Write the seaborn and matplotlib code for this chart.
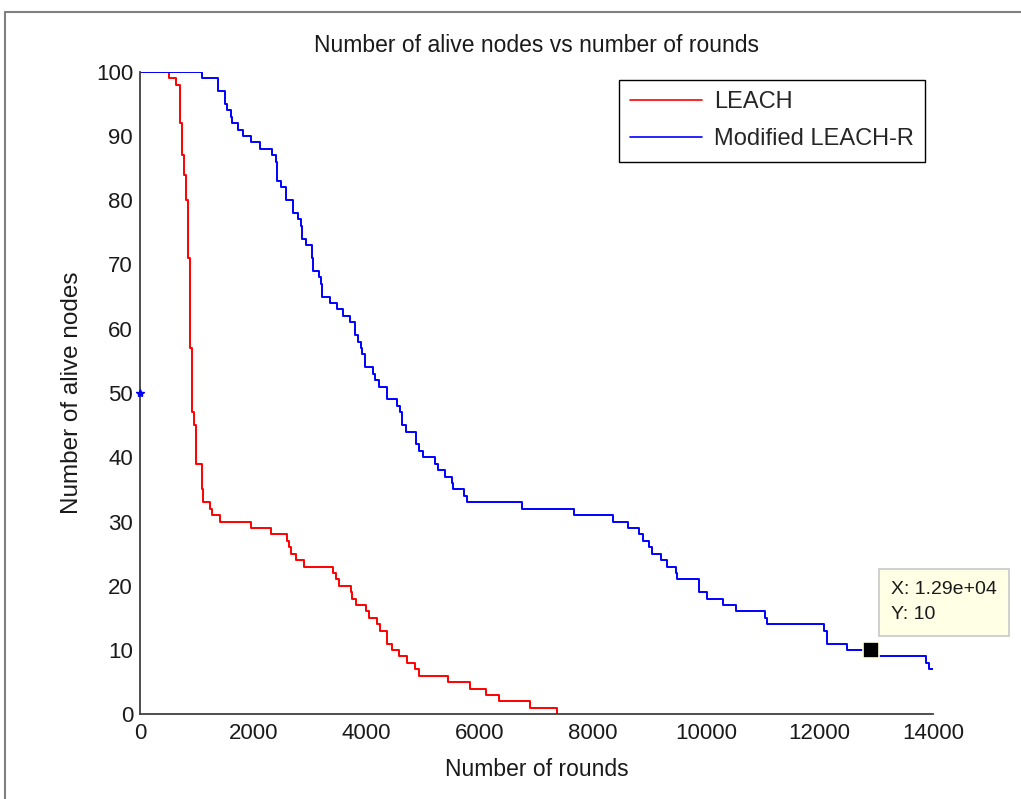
import matplotlib
matplotlib.use("Agg")
import matplotlib.pyplot as plt
from matplotlib.lines import Line2D
import seaborn as sns
import pandas as pd

# ---- data ----
leach_rounds = [0, 517, 635, 706, 747, 783, 806, 841, 883, 918, 947, 982, 1094, 1118,
                1241, 1277, 1412, 1954, 2307, 2600, 2630, 2660, 2748, 2895, 3401, 3455,
                3519, 3719, 3748, 3813, 3984, 4036, 4189, 4237, 4366, 4454, 4572, 4708,
                4854, 4925, 5431, 5825, 6102, 6337, 6884, 7366]
leach_alive = [100, 99, 98, 92, 87, 84, 80, 71, 57, 47, 45, 39, 35, 33,
               32, 31, 30, 29, 28, 27, 26, 25, 24, 23, 22, 21,
               20, 19, 18, 17, 16, 15, 14, 13, 11, 10, 9, 8,
               7, 6, 5, 4, 3, 2, 1, 0]

modr_rounds = [0, 1089, 1383, 1500, 1542, 1601, 1630, 1736, 1813, 1959, 2118, 2336, 2395,
               2412, 2495, 2572, 2707, 2748, 2783, 2840, 2866, 2924, 3030, 3060, 3160,
               3195, 3207, 3354, 3472, 3589, 3707, 3795, 3854, 3901, 3925, 3972, 4119,
               4155, 4225, 4355, 4366, 4531, 4590, 4619, 4690, 4872, 4931, 4990, 5207,
               5266, 5384, 5502, 5531, 5725, 5767, 6748, 7661, 8356, 8620, 8814, 8873,
               8991, 9032, 9191, 9297, 9462, 9485, 9868, 10004, 10297, 10521, 11033,
               11074, 12074, 12121, 12474, 12950, 13875, 13933, 14000]
modr_alive = [100, 99, 97, 95, 94, 93, 92, 91, 90, 89, 88, 87, 86,
              83, 82, 80, 78, 78, 77, 76, 74, 73, 71, 69, 68,
              67, 65, 64, 63, 62, 61, 59, 58, 57, 56, 54, 53,
              52, 51, 50, 49, 48, 47, 45, 44, 42, 41, 40, 39,
              38, 37, 36, 35, 34, 33, 32, 31, 30, 29, 28, 27,
              26, 25, 24, 23, 22, 21, 19, 18, 17, 16, 15,
              14, 13, 11, 10, 9, 8, 7, 7]

series_names = ["LEACH", "Modified LEACH-R"]
series_colors = ["#FF0000", "#0000FF"]

x_ticks = [0, 2000, 4000, 6000, 8000, 10000, 12000, 14000]
y_ticks = [0, 10, 20, 30, 40, 50, 60, 70, 80, 90, 100]

datatip_x = 12900
datatip_y = 10
start_marker_x = 0
start_marker_y = 50

title_text = "Number of alive nodes vs number of rounds"
xlabel_text = "Number of rounds"
ylabel_text = "Number of alive nodes"

# ---- styling ----
sns.set_style("white")
plt.rcParams["font.family"] = ["Liberation Sans", "DejaVu Sans"]

df = pd.concat([
    pd.DataFrame({"rounds": leach_rounds, "alive": leach_alive, "series": series_names[0]}),
    pd.DataFrame({"rounds": modr_rounds, "alive": modr_alive, "series": series_names[1]}),
], ignore_index=True)

fig = plt.figure(figsize=(10.21, 7.99), dpi=100)
ax = fig.add_axes([140 / 1021, 1 - 714.3 / 799, (933 - 140) / 1021, (714.3 - 71.7) / 799])

sns.lineplot(data=df, x="rounds", y="alive", hue="series", palette=series_colors,
             estimator=None, sort=False, drawstyle="steps-post", linewidth=1.4, ax=ax,
             legend=False)

ax.plot([start_marker_x], [start_marker_y], marker="*", color="#0000FF",
        markersize=6, linestyle="none", clip_on=False, zorder=5)

ax.set_xlim(0, 14000)
ax.set_ylim(0, 100)
ax.set_xticks(x_ticks)
ax.set_yticks(y_ticks)
ax.set_xticklabels([str(t) for t in x_ticks])
ax.set_yticklabels([str(t) for t in y_ticks])

for side in ["top", "right"]:
    ax.spines[side].set_visible(False)
for side in ["left", "bottom"]:
    ax.spines[side].set_color("#404040")
    ax.spines[side].set_linewidth(1.3)

ax.tick_params(axis="both", direction="in", length=6, width=1.1, color="#404040",
               labelsize=16, labelcolor="#1a1a1a")
ax.tick_params(axis="x", pad=6)
ax.tick_params(axis="y", pad=5)

ax.set_title(title_text, fontsize=16.5, pad=14, color="#1a1a1a")
ax.set_xlabel(xlabel_text, fontsize=16.5, labelpad=10, color="#1a1a1a")
ax.set_ylabel(ylabel_text, fontsize=17.5, labelpad=9, color="#1a1a1a")

# legend
handles = [Line2D([0], [0], color=c, lw=1.2) for c in series_colors]
leg = ax.legend(handles, series_names, loc="upper right", bbox_to_anchor=(0.99, 0.987),
                fontsize=17, frameon=True, fancybox=False, edgecolor="#000000",
                framealpha=1, handlelength=3.05, handletextpad=0.5, labelspacing=0.63,
                borderpad=0.48, borderaxespad=0)
leg.get_frame().set_linewidth(1.0)

# data tip
ax.plot([datatip_x], [datatip_y], marker="s", markersize=11, color="#000000",
        markeredgecolor="#FFFFE0", markeredgewidth=1.2, linestyle="none",
        clip_on=False, zorder=6)
ax.text(13255, 20.8, f"X: {datatip_x / 1e4:.2f}e+04\nY: {datatip_y}", fontsize=14,
        ha="left", va="top", color="#1a1a1a", linespacing=1.68, clip_on=False,
        bbox=dict(boxstyle="square,pad=0.62", facecolor="#FFFFE6", edgecolor="#C8C8C8",
                  linewidth=1.2), zorder=7)

# figure border (screenshot frame)
fig.add_artist(Line2D([5 / 1021, 5 / 1021], [0, 1 - 12 / 799], transform=fig.transFigure,
                      color="#808080", lw=1.5))
fig.add_artist(Line2D([5 / 1021, 1], [1 - 12 / 799, 1 - 12 / 799], transform=fig.transFigure,
                      color="#808080", lw=1.5))

fig.savefig("out.png", dpi=100)
